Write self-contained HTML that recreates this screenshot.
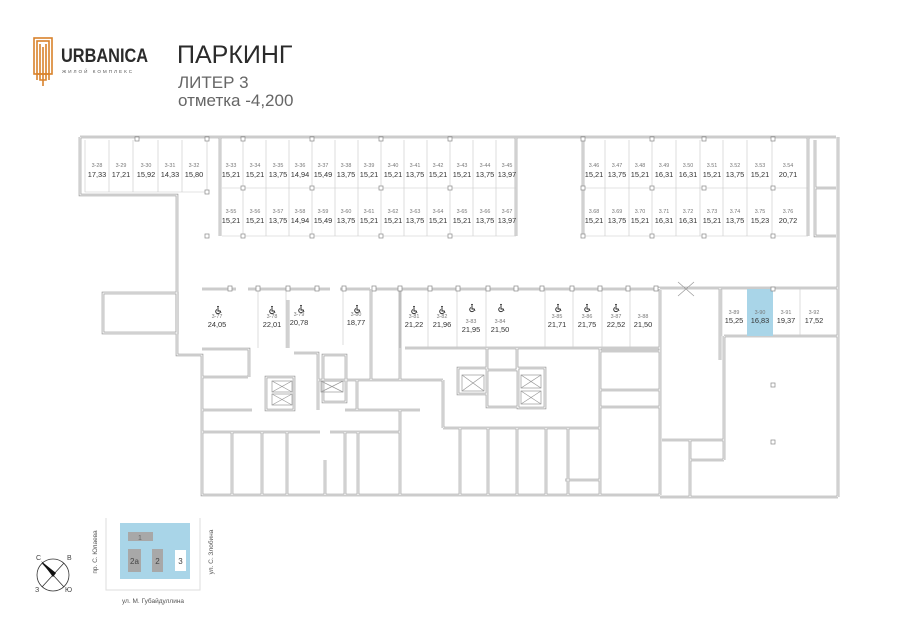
<!DOCTYPE html>
<html><head><meta charset="utf-8"><style>
html,body{margin:0;padding:0;background:#fff}
svg{display:block}
text{font-family:"Liberation Sans",sans-serif}
.l{font-size:5.4px;fill:#777;text-anchor:middle}
.v{font-size:7.4px;fill:#333;text-anchor:middle}
.g{stroke:#c8c8c8;stroke-width:0.6;fill:none}
</style></head><body>
<svg width="900" height="636" viewBox="0 0 900 636" xmlns="http://www.w3.org/2000/svg">
<defs>
<g id="wc" fill="none" stroke="#222" stroke-width="0.9">
<circle cx="0" cy="-3.2" r="0.9" fill="#222" stroke="none"/>
<path d="M0 -2 V1 H2.2 L3 3"/>
<path d="M-1 -0.5 A2.2 2.2 0 1 0 1.8 2.6"/>
</g>
<g id="walls">
<path d="M80 137 H836 M80 137 V195 H177 V355 H202 V495 H660 M660 497 H838 M838 137 V497"/>
<rect x="103" y="293" width="74" height="40"/>
<path d="M220 138 V236 M516 138 V236 M583 138 V236 M808 138 V236"/>
<path d="M202 289 H236 M248 289 H330 M340 289 H370 M372 289 H660 M658 288 H838"/>
<path d="M202 349 H249 V377 M202 377 H248 M202 410 H252"/>
<path d="M266 377 H294 V410 H266 Z M294 353 H318 V410 M323 355 H346 V402 H323 Z M318 380 H346"/>
<path d="M288 300 V348 M371 289 V380 M400 290 V380 H357 V410 H345 M357 380 H345 M345 410 H420 M443 380 V428 M400 380 H443"/>
<path d="M487 348 V370 M517 348 V370 M458 368 H487 V394 H458 Z M487 370 H518 V407 H487 Z M518 368 H545 V408 H518 Z"/>
<path d="M405 348 H660 M540 348 H600 V495 M600 351 H660 M600 390 H660 M600 407 H660 M660 290 V495"/>
<path d="M202 432 H320 M330 432 H400 M400 410 V495 M443 428 H600 M232 432 V495 M262 432 V495 M287 432 V495 M345 432 V495 M358 432 V495 M325 460 V495"/>
<path d="M460 428 V495 M488 428 V495 M517 428 V495 M546 428 V495 M568 428 V495 M565 480 H600"/>
<path d="M720 288 V360 M724 336 H838 M724 336 V460 M690 460 H724 M690 440 V497 M662 440 H724"/>
<path d="M815 140 V236 H836 M815 188 H836"/>
</g>
</defs>
<!-- header -->
<g fill="none" stroke="#d9822b" stroke-width="1.6">
<rect x="34" y="38" width="18" height="36"/>
<rect x="37" y="41" width="12" height="33"/>
<path d="M40 44 V80 H46 V44"/>
<path d="M43 47 V86"/>
<path d="M37 74 V80 M49 74 V80"/>
</g>
<text x="0" y="0" font-size="19" font-weight="bold" fill="#2b2b2b" transform="translate(61 62) scale(0.86 1)">URBANICA</text>
<text x="62" y="73" font-size="4.6" fill="#555" letter-spacing="2">ЖИЛОЙ КОМПЛЕКС</text>
<text x="177" y="63" font-size="25" fill="#2b2b2b">ПАРКИНГ</text>
<text x="178" y="88" font-size="17" fill="#666">ЛИТЕР 3</text>
<text x="178" y="106" font-size="17" fill="#666">отметка -4,200</text>

<g fill="none" stroke="#999" stroke-width="2.6"><use href="#walls"/></g>
<g fill="none" stroke="#fff" stroke-width="1.1"><use href="#walls"/></g>

<g class="g">
<path d="M85 140 V192 H207 V140 M109 140 V192 M133 140 V192 M158 140 V192 M182 140 V192"/>
<path d="M222 188 H516 M222 236 H516"/>
<path d="M243 140 V236 M266 140 V236 M289 140 V236 M312 140 V236 M335 140 V236 M358 140 V236 M381 140 V236 M404 140 V236 M427 140 V236 M450 140 V236 M473 140 V236 M496 140 V236"/>
<path d="M585 188 H808 M585 236 H808 M605 140 V236 M629 140 V236 M652 140 V236 M676 140 V236 M700 140 V236 M723 140 V236 M747 140 V236 M772 140 V236"/>
<path d="M258 289 V348 M286 289 V348 M343 289 V345 M400 289 V348 M428 289 V348 M457 289 V348 M486 289 V348 M545 289 V348 M573 289 V348 M602 289 V348 M630 289 V348"/>
<path d="M722 289 V336 M800 289 V336"/>
</g>
<rect x="747" y="289" width="26" height="47" fill="#a9d5e8"/>
<g fill="#fff" stroke="#888" stroke-width="0.7">
<rect x="135" y="137" width="4" height="4"/><rect x="205" y="137" width="4" height="4"/><rect x="205" y="190" width="4" height="4"/>
<rect x="241" y="137" width="4" height="4"/><rect x="310" y="137" width="4" height="4"/><rect x="379" y="137" width="4" height="4"/><rect x="448" y="137" width="4" height="4"/>
<rect x="241" y="186" width="4" height="4"/><rect x="310" y="186" width="4" height="4"/><rect x="379" y="186" width="4" height="4"/><rect x="448" y="186" width="4" height="4"/>
<rect x="241" y="234" width="4" height="4"/><rect x="310" y="234" width="4" height="4"/><rect x="379" y="234" width="4" height="4"/><rect x="448" y="234" width="4" height="4"/><rect x="205" y="234" width="4" height="4"/>
<rect x="581" y="137" width="4" height="4"/><rect x="650" y="137" width="4" height="4"/><rect x="702" y="137" width="4" height="4"/><rect x="771" y="137" width="4" height="4"/>
<rect x="581" y="186" width="4" height="4"/><rect x="650" y="186" width="4" height="4"/><rect x="702" y="186" width="4" height="4"/><rect x="771" y="186" width="4" height="4"/>
<rect x="581" y="234" width="4" height="4"/><rect x="650" y="234" width="4" height="4"/><rect x="702" y="234" width="4" height="4"/><rect x="771" y="234" width="4" height="4"/>
<rect x="771" y="287" width="4" height="4"/><rect x="771" y="383" width="4" height="4"/><rect x="771" y="440" width="4" height="4"/>
<rect x="228" y="286" width="4" height="5"/><rect x="256" y="286" width="4" height="5"/><rect x="286" y="286" width="4" height="5"/><rect x="315" y="286" width="4" height="5"/><rect x="342" y="286" width="4" height="5"/><rect x="372" y="286" width="4" height="5"/><rect x="398" y="286" width="4" height="5"/><rect x="428" y="286" width="4" height="5"/><rect x="456" y="286" width="4" height="5"/><rect x="486" y="286" width="4" height="5"/><rect x="514" y="286" width="4" height="5"/><rect x="540" y="286" width="4" height="5"/><rect x="570" y="286" width="4" height="5"/><rect x="598" y="286" width="4" height="5"/><rect x="626" y="286" width="4" height="5"/><rect x="654" y="286" width="4" height="5"/>
</g>
<g fill="none" stroke="#999" stroke-width="0.7">
<rect x="272" y="381" width="20" height="11"/><path d="M272 381 L292 392 M292 381 L272 392"/>
<rect x="272" y="394" width="20" height="11"/><path d="M272 394 L292 405 M292 394 L272 405"/>
<rect x="321" y="381" width="22" height="11"/><path d="M321 381 L343 392 M343 381 L321 392"/>
<rect x="462" y="375" width="22" height="16"/><path d="M462 375 L484 391 M484 375 L462 391"/>
<rect x="521" y="375" width="20" height="13"/><path d="M521 375 L541 388 M541 375 L521 388"/>
<rect x="521" y="391" width="20" height="13"/><path d="M521 391 L541 404 M541 391 L521 404"/>
<path d="M678 282 L694 296 M694 282 L678 296"/>
</g>

<g>
<text class="l" x="97" y="167">3-28</text><text class="v" x="97" y="177">17,33</text>
<text class="l" x="121" y="167">3-29</text><text class="v" x="121" y="177">17,21</text>
<text class="l" x="146" y="167">3-30</text><text class="v" x="146" y="177">15,92</text>
<text class="l" x="170" y="167">3-31</text><text class="v" x="170" y="177">14,33</text>
<text class="l" x="194" y="167">3-32</text><text class="v" x="194" y="177">15,80</text>
<text class="l" x="231" y="167">3-33</text><text class="v" x="231" y="177">15,21</text>
<text class="l" x="255" y="167">3-34</text><text class="v" x="255" y="177">15,21</text>
<text class="l" x="278" y="167">3-35</text><text class="v" x="278" y="177">13,75</text>
<text class="l" x="300" y="167">3-36</text><text class="v" x="300" y="177">14,94</text>
<text class="l" x="323" y="167">3-37</text><text class="v" x="323" y="177">15,49</text>
<text class="l" x="346" y="167">3-38</text><text class="v" x="346" y="177">13,75</text>
<text class="l" x="369" y="167">3-39</text><text class="v" x="369" y="177">15,21</text>
<text class="l" x="393" y="167">3-40</text><text class="v" x="393" y="177">15,21</text>
<text class="l" x="415" y="167">3-41</text><text class="v" x="415" y="177">13,75</text>
<text class="l" x="438" y="167">3-42</text><text class="v" x="438" y="177">15,21</text>
<text class="l" x="462" y="167">3-43</text><text class="v" x="462" y="177">15,21</text>
<text class="l" x="485" y="167">3-44</text><text class="v" x="485" y="177">13,75</text>
<text class="l" x="507" y="167">3-45</text><text class="v" x="507" y="177">13,97</text>
<text class="l" x="231" y="213">3-55</text><text class="v" x="231" y="223">15,21</text>
<text class="l" x="255" y="213">3-56</text><text class="v" x="255" y="223">15,21</text>
<text class="l" x="278" y="213">3-57</text><text class="v" x="278" y="223">13,75</text>
<text class="l" x="300" y="213">3-58</text><text class="v" x="300" y="223">14,94</text>
<text class="l" x="323" y="213">3-59</text><text class="v" x="323" y="223">15,49</text>
<text class="l" x="346" y="213">3-60</text><text class="v" x="346" y="223">13,75</text>
<text class="l" x="369" y="213">3-61</text><text class="v" x="369" y="223">15,21</text>
<text class="l" x="393" y="213">3-62</text><text class="v" x="393" y="223">15,21</text>
<text class="l" x="415" y="213">3-63</text><text class="v" x="415" y="223">13,75</text>
<text class="l" x="438" y="213">3-64</text><text class="v" x="438" y="223">15,21</text>
<text class="l" x="462" y="213">3-65</text><text class="v" x="462" y="223">15,21</text>
<text class="l" x="485" y="213">3-66</text><text class="v" x="485" y="223">13,75</text>
<text class="l" x="507" y="213">3-67</text><text class="v" x="507" y="223">13,97</text>
<text class="l" x="594" y="167">3.46</text><text class="v" x="594" y="177">15,21</text>
<text class="l" x="617" y="167">3.47</text><text class="v" x="617" y="177">13,75</text>
<text class="l" x="640" y="167">3.48</text><text class="v" x="640" y="177">15,21</text>
<text class="l" x="664" y="167">3.49</text><text class="v" x="664" y="177">16,31</text>
<text class="l" x="688" y="167">3.50</text><text class="v" x="688" y="177">16,31</text>
<text class="l" x="712" y="167">3.51</text><text class="v" x="712" y="177">15,21</text>
<text class="l" x="735" y="167">3.52</text><text class="v" x="735" y="177">13,75</text>
<text class="l" x="760" y="167">3.53</text><text class="v" x="760" y="177">15,21</text>
<text class="l" x="788" y="167">3.54</text><text class="v" x="788" y="177">20,71</text>
<text class="l" x="594" y="213">3.68</text><text class="v" x="594" y="223">15,21</text>
<text class="l" x="617" y="213">3.69</text><text class="v" x="617" y="223">13,75</text>
<text class="l" x="640" y="213">3.70</text><text class="v" x="640" y="223">15,21</text>
<text class="l" x="664" y="213">3.71</text><text class="v" x="664" y="223">16,31</text>
<text class="l" x="688" y="213">3.72</text><text class="v" x="688" y="223">16,31</text>
<text class="l" x="712" y="213">3.73</text><text class="v" x="712" y="223">15,21</text>
<text class="l" x="735" y="213">3.74</text><text class="v" x="735" y="223">13,75</text>
<text class="l" x="760" y="213">3.75</text><text class="v" x="760" y="223">15,23</text>
<text class="l" x="788" y="213">3.76</text><text class="v" x="788" y="223">20,72</text>
</g>
<use href="#wc" x="218" y="310"/><use href="#wc" x="272" y="310"/><use href="#wc" x="301" y="309"/><use href="#wc" x="357" y="309"/><use href="#wc" x="414" y="310"/><use href="#wc" x="442" y="310"/><use href="#wc" x="472" y="308"/><use href="#wc" x="501" y="308"/><use href="#wc" x="558" y="308"/><use href="#wc" x="587" y="308"/><use href="#wc" x="616" y="308"/>
<g>
<text class="l" x="217" y="318">3-77</text><text class="v" x="217" y="327">24,05</text>
<text class="l" x="272" y="318">3-78</text><text class="v" x="272" y="327">22,01</text>
<text class="l" x="299" y="316">3-79</text><text class="v" x="299" y="325">20,78</text>
<text class="l" x="356" y="316">3-80</text><text class="v" x="356" y="325">18,77</text>
<text class="l" x="414" y="318">3-81</text><text class="v" x="414" y="327">21,22</text>
<text class="l" x="442" y="318">3-82</text><text class="v" x="442" y="327">21,96</text>
<text class="l" x="471" y="323">3-83</text><text class="v" x="471" y="332">21,95</text>
<text class="l" x="500" y="323">3-84</text><text class="v" x="500" y="332">21,50</text>
<text class="l" x="557" y="318">3-85</text><text class="v" x="557" y="327">21,71</text>
<text class="l" x="587" y="318">3-86</text><text class="v" x="587" y="327">21,75</text>
<text class="l" x="616" y="318">3-87</text><text class="v" x="616" y="327">22,52</text>
<text class="l" x="643" y="318">3-88</text><text class="v" x="643" y="327">21,50</text>
<text class="l" x="734" y="314">3-89</text><text class="v" x="734" y="323">15,25</text>
<text class="l" x="760" y="314">3-90</text><text class="v" x="760" y="323">16,83</text>
<text class="l" x="786" y="314">3-91</text><text class="v" x="786" y="323">19,37</text>
<text class="l" x="814" y="314">3-92</text><text class="v" x="814" y="323">17,52</text>
</g>

<path d="M106 518 V590 H200 V518" fill="none" stroke="#ddd" stroke-width="1"/>
<rect x="120" y="523" width="70" height="56" fill="#a9d5e8"/>
<rect x="128" y="532" width="25" height="9" fill="#a8a8a8"/>
<text x="140" y="540" font-size="7" fill="#666" text-anchor="middle">1</text>
<rect x="128" y="549" width="13" height="23" fill="#a8a8a8"/>
<text x="134.5" y="564" font-size="8" fill="#444" text-anchor="middle">2a</text>
<rect x="152" y="549" width="11" height="23" fill="#a8a8a8"/>
<text x="157.5" y="564" font-size="8" fill="#444" text-anchor="middle">2</text>
<rect x="175" y="550" width="11" height="21" fill="#fff"/>
<text x="180.5" y="564" font-size="8" fill="#444" text-anchor="middle">3</text>
<text x="0" y="0" font-size="6.5" fill="#555" text-anchor="middle" transform="translate(97 552) rotate(-90)">пр. С. Юлаева</text>
<text x="0" y="0" font-size="6.5" fill="#555" text-anchor="middle" transform="translate(213 552) rotate(-90)">ул. С. Злобина</text>
<text x="153" y="603" font-size="6.5" fill="#555" text-anchor="middle">ул. М. Губайдуллина</text>
<circle cx="53" cy="575" r="16" fill="none" stroke="#333" stroke-width="0.8"/>
<path d="M42 563 L64 587 M64 563 L42 587" stroke="#333" stroke-width="0.8"/>
<path d="M41 561 L56 573 L53 577 Z" fill="#111"/>
<text x="36" y="560" font-size="7" fill="#444">С</text>
<text x="67" y="560" font-size="7" fill="#444">В</text>
<text x="35" y="592" font-size="7" fill="#444">З</text>
<text x="65" y="592" font-size="7" fill="#444">Ю</text>
</svg>
</body></html>
